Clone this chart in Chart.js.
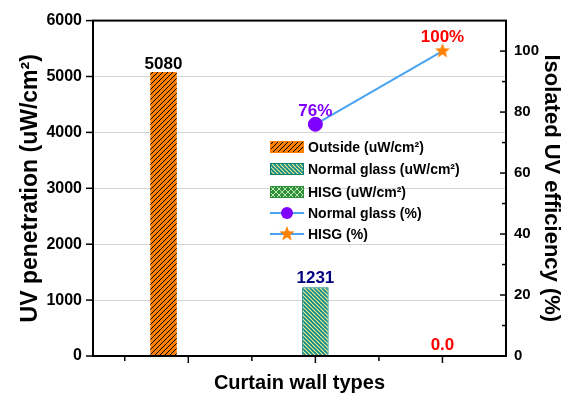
<!DOCTYPE html>
<html>
<head>
<meta charset="utf-8">
<script src="https://cdn.jsdelivr.net/npm/chart.js@4.4.1/dist/chart.umd.min.js"></script>
<style>
    html, body { margin: 0; padding: 0; background: #fff; }
    #wrap { width: 571px; height: 396px; }
</style>
</head>
<body>
<div id="wrap"><canvas id="myChart"></canvas></div>
<script>
// data
const categories = ['Outside', 'Normal glass', 'HISG'];
const category_x = [1, 2, 3];
const outside_uv = [5080, null, null];
const normal_glass_uv = [null, 1231, null];
const hisg_uv = [null, null, 0];
const normal_glass_pct = [null, 76, null];
const hisg_pct = [null, null, 100];

const uv_ticks = [0, 1000, 2000, 3000, 4000, 5000, 6000];
const pct_ticks = [0, 20, 40, 60, 80, 100];
const pct_minor_ticks = [10, 30, 50, 70, 90];
const x_major_ticks = [1, 2, 3];
const x_minor_ticks = [0.5, 1.5, 2.5];

const legend_names = ['Outside (uW/cm²)', 'Normal glass (uW/cm²)', 'HISG (uW/cm²)', 'Normal glass (%)', 'HISG (%)'];

const font_family = "'Liberation Sans', Arial, sans-serif";
const line_blue = '#48a4f2';
const violet = '#8000ff';
const orange = '#ff8000';

function hatch(bg, fg, size, lw, dir, cross) {
    const c = document.createElement('canvas');
    c.width = size;
    c.height = size;
    const g = c.getContext('2d');
    g.fillStyle = bg;
    g.fillRect(0, 0, size, size);
    g.strokeStyle = fg;
    g.lineWidth = lw;
    const diag = (d) => {
        g.beginPath();
        for (const o of [-size, 0, size]) {
            if (d > 0) { g.moveTo(o, size); g.lineTo(o + size, 0); }
            else { g.moveTo(o, 0); g.lineTo(o + size, size); }
        }
        g.stroke();
    };
    diag(dir);
    if (cross) diag(-dir);
    return g.createPattern(c, 'repeat');
}

function star_img(r, color) {
    const c = document.createElement('canvas');
    const s = Math.ceil(r * 2) + 2;
    c.width = s;
    c.height = s;
    const g = c.getContext('2d');
    g.fillStyle = color;
    g.beginPath();
    for (let i = 0; i < 10; i++) {
        const a = -Math.PI / 2 + i * Math.PI / 5;
        const rr = i % 2 ? r * 0.42 : r;
        g.lineTo(s / 2 + rr * Math.cos(a), s / 2 + rr * Math.sin(a));
    }
    g.closePath();
    g.fill();
    return c;
}

const pat_outside = hatch(orange, '#000', 5, 1, 1, false);
const pat_normal = hatch('#16898c', '#f4f48a', 4, 1.1, -1, false);
const pat_hisg = hatch('#2f8f3a', '#bfe8b5', 6, 1, 1, true);
const star = star_img(8, orange);

function pts(vals) {
    return category_x.map((x, i) => ({ x: x, y: vals[i] })).filter(p => p.y !== null);
}
const link_pct = category_x.map((x, i) => ({ x: x, y: normal_glass_pct[i] !== null ? normal_glass_pct[i] : hisg_pct[i] })).filter(p => p.y !== null);

function fmt_uv(v) {
    return v === 0 ? v.toFixed(1) : String(v);
}

// axis frame and tick marks
const frame_plugin = {
    id: 'frame',
    afterDatasetsDraw(chart) {
        const { ctx, chartArea: a, scales } = chart;
        ctx.save();
        ctx.strokeStyle = '#000';
        ctx.lineWidth = 2;
        ctx.strokeRect(a.left, a.top, a.right - a.left, a.bottom - a.top);
        ctx.lineWidth = 1.5;
        const tick = (x1, y1, x2, y2) => {
            ctx.beginPath();
            ctx.moveTo(x1, y1);
            ctx.lineTo(x2, y2);
            ctx.stroke();
        };
        uv_ticks.forEach(v => {
            const y = scales.y.getPixelForValue(v);
            tick(a.left - 7, y, a.left, y);
        });
        pct_ticks.forEach(v => {
            const y = scales.y1.getPixelForValue(v);
            tick(a.right - 6, y, a.right, y);
        });
        pct_minor_ticks.forEach(v => {
            const y = scales.y1.getPixelForValue(v);
            tick(a.right - 4, y, a.right, y);
        });
        x_major_ticks.forEach(v => {
            const x = scales.x.getPixelForValue(v);
            tick(x, a.bottom, x, a.bottom + 7);
        });
        x_minor_ticks.forEach(v => {
            const x = scales.x.getPixelForValue(v);
            tick(x, a.bottom, x, a.bottom + 5);
        });
        ctx.restore();
    }
};

// value labels over bars and points
const label_plugin = {
    id: 'value_labels',
    afterDatasetsDraw(chart) {
        const ctx = chart.ctx;
        ctx.save();
        ctx.font = 'bold 17px ' + font_family;
        ctx.textAlign = 'center';
        ctx.textBaseline = 'alphabetic';

        const bar0 = chart.getDatasetMeta(0).data[0];
        ctx.fillStyle = '#000';
        ctx.fillText(fmt_uv(outside_uv[0]), bar0.x, bar0.y - 3);

        const bar1 = chart.getDatasetMeta(1).data[0];
        ctx.fillStyle = '#000080';
        ctx.fillText(fmt_uv(normal_glass_uv[1]), bar1.x, bar1.y - 4);

        const bar2 = chart.getDatasetMeta(2).data[0];
        ctx.fillStyle = '#ff0000';
        ctx.fillText(fmt_uv(hisg_uv[2]), chart.scales.x.getPixelForValue(category_x[2]), bar2.y - 6);

        const p0 = chart.getDatasetMeta(4).data[0];
        ctx.fillStyle = violet;
        ctx.fillText(normal_glass_pct[1] + '%', p0.x, p0.y - 8);

        const p1 = chart.getDatasetMeta(5).data[0];
        ctx.fillStyle = '#ff0000';
        ctx.fillText(hisg_pct[2] + '%', p1.x, p1.y - 9);
        ctx.restore();
    }
};

// legend in the middle of the plot
const legend_plugin = {
    id: 'inner_legend',
    afterDatasetsDraw(chart) {
        const ctx = chart.ctx;
        const x0 = 270, sw = 34, sh = 12;
        const rows = [147, 169, 192, 213, 234];
        const fills = [pat_outside, pat_normal, pat_hisg];
        const borders = [orange, '#0d7f74', '#2f8f3a'];
        ctx.save();
        for (let i = 0; i < 3; i++) {
            ctx.fillStyle = fills[i];
            ctx.fillRect(x0, rows[i] - sh / 2, sw, sh);
            ctx.strokeStyle = borders[i];
            ctx.lineWidth = 1;
            ctx.strokeRect(x0 + 0.5, rows[i] - sh / 2 + 0.5, sw - 1, sh - 1);
        }
        for (let i = 3; i < 5; i++) {
            ctx.strokeStyle = line_blue;
            ctx.lineWidth = 2;
            ctx.beginPath();
            ctx.moveTo(x0, rows[i]);
            ctx.lineTo(x0 + sw, rows[i]);
            ctx.stroke();
        }
        ctx.fillStyle = violet;
        ctx.beginPath();
        ctx.arc(x0 + sw / 2, rows[3], 6, 0, Math.PI * 2);
        ctx.fill();
        ctx.drawImage(star, x0 + sw / 2 - star.width / 2, rows[4] - star.height / 2);

        ctx.font = 'bold 14px ' + font_family;
        ctx.fillStyle = '#000';
        ctx.textAlign = 'left';
        ctx.textBaseline = 'middle';
        legend_names.forEach((t, i) => ctx.fillText(t, x0 + sw + 4, rows[i] + 1));
        ctx.restore();
    }
};

const ctx = document.getElementById('myChart');

const config = {
    type: 'bar',
    data: {
        datasets: [
            {
                label: categories[0],
                data: pts(outside_uv),
                backgroundColor: pat_outside,
                borderColor: orange,
                borderWidth: 0,
                yAxisID: 'y',
                order: 5
            },
            {
                label: categories[1],
                data: pts(normal_glass_uv),
                backgroundColor: pat_normal,
                borderColor: '#0d7f74',
                borderWidth: 1,
                yAxisID: 'y',
                order: 5
            },
            {
                label: categories[2],
                data: pts(hisg_uv),
                backgroundColor: pat_hisg,
                borderWidth: 0,
                yAxisID: 'y',
                order: 5
            },
            {
                type: 'line',
                label: 'link',
                data: link_pct,
                borderColor: line_blue,
                borderWidth: 2,
                pointRadius: 0,
                yAxisID: 'y1',
                order: 3
            },
            {
                type: 'line',
                label: 'Normal glass (%)',
                data: pts(normal_glass_pct),
                showLine: false,
                pointRadius: 7,
                pointBackgroundColor: violet,
                pointBorderColor: violet,
                yAxisID: 'y1',
                order: 1
            },
            {
                type: 'line',
                label: 'HISG (%)',
                data: pts(hisg_pct),
                showLine: false,
                pointStyle: star,
                pointRadius: 8,
                yAxisID: 'y1',
                order: 1
            }
        ]
    },
    options: {
        responsive: true,
        maintainAspectRatio: false,
        animation: false,
        layout: { padding: { top: 19, left: 0, right: 0, bottom: 0 } },
        categoryPercentage: 0.585,
        barPercentage: 1.07,
        scales: {
            x: {
                type: 'linear',
                min: 0.25,
                max: 3.5,
                offset: false,
                afterBuildTicks: (scale) => { scale.ticks = x_major_ticks.map(v => ({ value: v })); },
                afterFit: (scale) => { scale.height = 40; },
                ticks: { display: false },
                grid: { display: false, drawTicks: false },
                border: { display: false },
                title: {
                    display: true,
                    text: 'Curtain wall types',
                    color: '#000',
                    font: { family: font_family, size: 20, weight: 'bold' },
                    padding: { top: 0, bottom: 1 }
                }
            },
            y: {
                position: 'left',
                min: 0,
                max: 6000,
                afterBuildTicks: (scale) => { scale.ticks = uv_ticks.map(v => ({ value: v })); },
                afterFit: (scale) => { scale.width = 93; },
                ticks: {
                    color: '#000',
                    padding: 11,
                    callback: (v) => String(v),
                    font: { family: font_family, size: 16, weight: 'bold' }
                },
                grid: {
                    drawTicks: false,
                    lineWidth: 1,
                    color: (c) => (c.tick && (c.tick.value === 0 || c.tick.value === 6000)) ? 'rgba(0,0,0,0)' : '#d4d4d4'
                },
                border: { display: false },
                title: {
                    display: true,
                    text: 'UV penetration (uW/cm²)',
                    color: '#000',
                    font: { family: font_family, size: 23, weight: 'bold' },
                    padding: { top: 17, bottom: 0 }
                }
            },
            y1: {
                position: 'right',
                min: 0,
                max: 110,
                afterBuildTicks: (scale) => { scale.ticks = pct_ticks.map(v => ({ value: v })); },
                afterFit: (scale) => { scale.width = 65; },
                ticks: {
                    color: '#000',
                    padding: 8,
                    callback: (v) => String(v),
                    font: { family: font_family, size: 15, weight: 'bold' }
                },
                grid: { display: false, drawTicks: false },
                border: { display: false },
                title: {
                    display: true,
                    text: 'Isolated UV efficiency (%)',
                    color: '#000',
                    font: { family: font_family, size: 22, weight: 'bold' },
                    padding: { top: 7, bottom: 0 }
                }
            }
        },
        plugins: {
            legend: { display: false },
            tooltip: { enabled: false }
        }
    },
    plugins: [frame_plugin, label_plugin, legend_plugin]
};

const chart = new Chart(ctx, config);
</script>
</body>
</html>
